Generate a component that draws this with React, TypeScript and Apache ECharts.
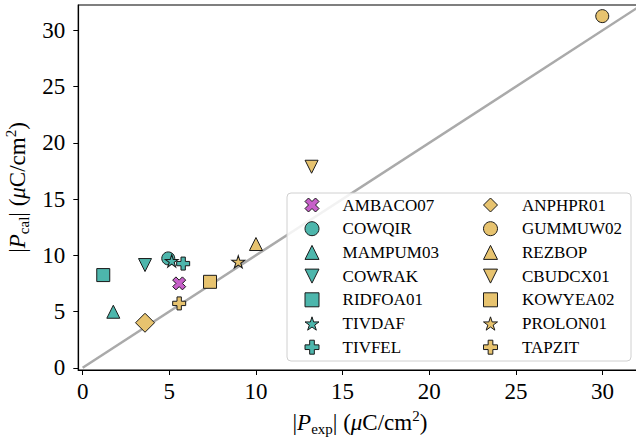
import React, { useEffect, useRef } from 'react';
import * as echarts from 'echarts';

// ---- data ----
const compounds = [
  'AMBACO07', 'COWQIR', 'MAMPUM03', 'COWRAK', 'RIDFOA01', 'TIVDAF', 'TIVFEL',
  'ANPHPR01', 'GUMMUW02', 'REZBOP', 'CBUDCX01', 'KOWYEA02', 'PROLON01', 'TAPZIT',
];
const pExp = [5.57, 4.94, 1.77, 3.6, 1.19, 5.14, 5.8, 3.6, 29.98, 10.0, 13.21, 7.35, 8.98, 5.57];
const pCal = [7.5, 9.72, 4.98, 9.13, 8.24, 9.5, 9.26, 4.0, 31.26, 11.0, 17.87, 7.64, 9.42, 5.72];
const xTicks = [0, 5, 10, 15, 20, 25, 30];
const yTicks = [0, 5, 10, 15, 20, 25, 30];
const parityLine = [0, 40];
const legendCol1 = compounds.slice(0, 7);
const legendCol2 = compounds.slice(7);

// ---- styles ----
const TEAL = '#4db6ac';
const GOLD = '#e7c36f';
const PURPLE = '#c760c9';
const X_PATH = 'path://M25,0 L50,25 L75,0 L100,25 L75,50 L100,75 L75,100 L50,75 L25,100 L0,75 L25,50 L0,25 Z';
const PLUS_PATH = 'path://M33.3,0 L66.7,0 L66.7,33.3 L100,33.3 L100,66.7 L66.7,66.7 L66.7,100 L33.3,100 L33.3,66.7 L0,66.7 L0,33.3 L33.3,33.3 Z';
const DOWN_TRI = 'path://M0,0 L100,0 L50,100 Z';
function starPath(): string {
  const pts: string[] = [];
  for (let k = 0; k < 10; k++) {
    const r = k % 2 === 0 ? 50 : 50 * 0.381966;
    const a = ((-90 + 36 * k) * Math.PI) / 180;
    pts.push(`${(50 + r * Math.cos(a)).toFixed(2)},${(50 + r * Math.sin(a)).toFixed(2)}`);
  }
  return 'path://M' + pts.join(' L') + ' Z';
}
const STAR = starPath();
const symbols = [
  X_PATH, 'circle', 'triangle', DOWN_TRI, 'rect', STAR, PLUS_PATH,
  'diamond', 'circle', 'triangle', DOWN_TRI, 'rect', STAR, PLUS_PATH,
];
const sizes: any[] = [13, 13, 13, 13, 13, [13, 12.4], 13, 19, 13, 13, 13, 13, [13, 12.4], 13];
const colors = [PURPLE, TEAL, TEAL, TEAL, TEAL, TEAL, TEAL, GOLD, GOLD, GOLD, GOLD, GOLD, GOLD, GOLD];

const SERIF = '"Liberation Serif", "DejaVu Serif", serif';
const nameRich = {
  it: { fontFamily: SERIF, fontSize: 23, fontStyle: 'italic', lineHeight: 28, color: '#000' },
  sub: { fontFamily: SERIF, fontSize: 15, lineHeight: 13, verticalAlign: 'bottom', color: '#000' },
  sup: { fontFamily: SERIF, fontSize: 15, lineHeight: 12, verticalAlign: 'top', color: '#000' },
};
const nameStyle = { fontFamily: SERIF, fontSize: 23, lineHeight: 28, color: '#000', rich: nameRich };

function legendFor(names: string[], left: number, textPad: number) {
  return {
    show: true,
    orient: 'vertical',
    left,
    top: 196.5,
    padding: 0,
    z: 10,
    itemWidth: 14,
    itemHeight: 14,
    itemGap: 6.7,
    selectedMode: false,
    data: names,
    itemStyle: { borderColor: '#1a1a1a', borderWidth: 1 },
    textStyle: { fontFamily: SERIF, fontSize: 17, color: '#000', padding: [0, 0, 0, textPad] },
  };
}

export default function App() {
  const ref = useRef<HTMLDivElement>(null);
  useEffect(() => {
    if (!ref.current) return;
    const chart = echarts.init(ref.current, undefined, { renderer: 'svg' });
    const scatterSeries = compounds.map((name, i) => ({
      type: 'scatter',
      name,
      data: [[pExp[i], pCal[i]]],
      symbol: symbols[i],
      symbolSize: sizes[i],
      z: 3,
      itemStyle: { color: colors[i], borderColor: '#1a1a1a', borderWidth: 1, opacity: 1 },
      emphasis: { disabled: true },
    }));
    chart.setOption({
      animation: false,
      grid: {
        left: 78.3, right: -5.6, top: 5, bottom: 67,
        outerBoundsMode: 'none',
        containLabel: false,
        show: true, borderColor: '#000', borderWidth: 1.2, backgroundColor: 'transparent',
      },
      xAxis: {
        type: 'value', min: -0.25, max: 32.25,
        splitLine: { show: false },
        axisLine: { show: true, onZero: false, lineStyle: { color: '#000', width: 1.2 } },
        axisTick: { show: true, length: 5, lineStyle: { color: '#000', width: 1 }, customValues: xTicks },
        axisLabel: { margin: 10, fontFamily: SERIF, fontSize: 23, color: '#000', customValues: xTicks },
        name: '|{it|P}{sub|exp}| ({it|μ}C/cm{sup|2})',
        nameLocation: 'middle',
        nameGap: 38,
        nameTextStyle: nameStyle,
      },
      yAxis: {
        type: 'value', min: -0.2, max: 32.25,
        splitLine: { show: false },
        axisLine: { show: true, onZero: false, lineStyle: { color: '#000', width: 1.2 } },
        axisTick: { show: true, length: 5, lineStyle: { color: '#000', width: 1 }, customValues: yTicks },
        axisLabel: { margin: 13, fontFamily: SERIF, fontSize: 23, color: '#000', customValues: yTicks },
        name: '|{it|P}{sub|cal}| ({it|μ}C/cm{sup|2})',
        nameLocation: 'middle',
        nameRotate: 90,
        nameGap: 42,
        nameTextStyle: nameStyle,
      },
      legend: [legendFor(legendCol1, 304.5, 18.6), legendFor(legendCol2, 483, 19.5)],
      graphic: {
        elements: [
          {
            type: 'rect',
            z: 5,
            silent: true,
            shape: { x: 287, y: 193, width: 344, height: 168, r: 4 },
            style: { fill: 'rgba(255,255,255,0.85)', stroke: '#d0d0d0', lineWidth: 1 },
          },
        ],
      },
      series: [
        {
          type: 'line',
          name: 'parity',
          data: parityLine.map((v) => [v, v]),
          symbol: 'none',
          silent: true,
          z: 2,
          lineStyle: { color: '#aaaaaa', width: 2.5 },
        },
        ...scatterSeries,
      ],
    });
    return () => chart.dispose();
  }, []);
  return <div ref={ref} style={{ position: 'absolute', left: 0, top: 0, width: 636, height: 437 }} />;
}
